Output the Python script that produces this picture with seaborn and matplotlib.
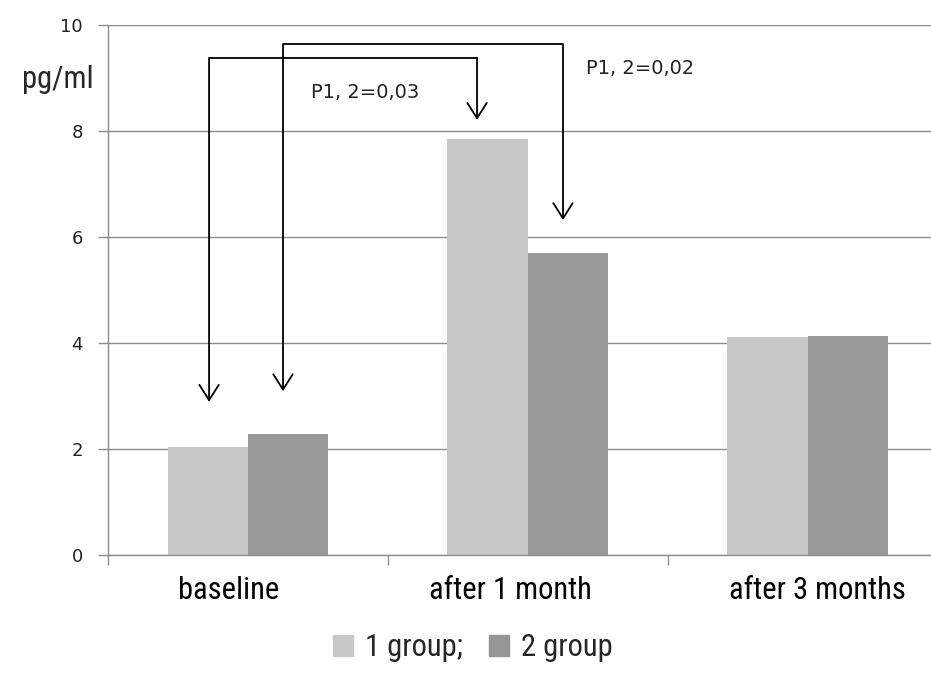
import matplotlib
matplotlib.use("Agg")
import matplotlib.pyplot as plt
import matplotlib.patches as mpatches
import matplotlib.transforms as mtransforms
from matplotlib import font_manager
import seaborn as sns
import pandas as pd

categories = ["baseline", "after 1 month", "after 3 months"]
groups = ["1 group;", "2 group"]
group1_values = [2.03, 7.84, 4.11]
group2_values = [2.29, 5.70, 4.13]
y_ticks = [0, 2, 4, 6, 8, 10]
colors = ["#c8c8c8", "#999999"]
legend_colors = ["#c8c8c8", "#969696"]

df = pd.DataFrame({
    "category": categories * 2,
    "group": [groups[0]] * 3 + [groups[1]] * 3,
    "value": group1_values + group2_values,
})

sns.set_theme(style="white")
plt.rcParams["font.family"] = ["DejaVu Sans"]

available = {f.name for f in font_manager.fontManager.ttflist}
narrow_choice = None
for cand in ["Liberation Sans Narrow", "DejaVu Sans Condensed", "Roboto Condensed",
             "Open Sans Condensed", "Noto Sans Condensed", "Arial Narrow"]:
    if cand in available:
        narrow_choice = cand
        break
if narrow_choice is None:
    narrow = ["Roboto", "DejaVu Sans"]
    big = 20
else:
    narrow = [narrow_choice, "DejaVu Sans"]
    big = 22

fig = plt.figure(figsize=(9.31, 6.95), dpi=100)
ax = fig.add_axes([108 / 931, 1 - 555 / 695, 840 / 931, 530 / 695])

sns.barplot(data=df, x="category", y="value", hue="group", order=categories,
            hue_order=groups, palette=colors, width=0.575, saturation=1,
            linewidth=0, ax=ax, legend=False, errorbar=None)

ax.set_xlim(-0.5, 2.5)
ax.set_ylim(0, 10)
ax.set_yticks(y_ticks)
ax.set_yticklabels([str(t) for t in y_ticks], fontsize=13, color="#222222")
ax.yaxis.grid(True, color="#8c8c8c", linewidth=1.0)
ax.set_axisbelow(True)
ax.set_xlabel("")
ax.set_ylabel("")

ax.set_xticks([0, 1, 2])
ax.set_xticklabels(categories, fontsize=big, family=narrow, color="black")
ax.set_xticks([-0.5, 0.5, 1.5, 2.5], minor=True)
ax.tick_params(axis="x", which="major", length=0, pad=15)
ax.tick_params(axis="x", which="minor", length=7, width=1, color="#8c8c8c", direction="out", bottom=True)
ax.tick_params(axis="y", which="major", length=7, width=1, color="#8c8c8c", direction="out", left=True, pad=11)

# small horizontal offsets of category labels as in the original
label_shift_px = [-19, -18, 9]
for lab, dx in zip(ax.get_xticklabels(), label_shift_px):
    lab.set_transform(lab.get_transform() + mtransforms.Affine2D().translate(dx, 0))

for s in ["top", "right"]:
    ax.spines[s].set_visible(False)
for s in ["left", "bottom"]:
    ax.spines[s].set_color("#8c8c8c")
    ax.spines[s].set_linewidth(1.0)

# unit label
fig.text(58 / 931, 1 - 80 / 695, "pg/ml", fontsize=big, family=narrow, ha="center", va="center")

# significance brackets
lw = 1.3
arrow_style = "->,head_length=1.1,head_width=0.7"

b1_left, b1_right, b1_top = -0.139, 0.818, 9.38
ax.plot([b1_left, b1_right], [b1_top, b1_top], color="black", lw=lw, solid_capstyle="butt")
ax.annotate("", xy=(b1_left, 2.89), xytext=(b1_left, b1_top),
            arrowprops=dict(arrowstyle=arrow_style, mutation_scale=10, lw=lw, color="black", shrinkA=0, shrinkB=0))
ax.annotate("", xy=(b1_right, 8.21), xytext=(b1_right, b1_top),
            arrowprops=dict(arrowstyle=arrow_style, mutation_scale=10, lw=lw, color="black", shrinkA=0, shrinkB=0))

b2_left, b2_right, b2_top = 0.125, 1.125, 9.64
ax.plot([b2_left, b2_right], [b2_top, b2_top], color="black", lw=lw, solid_capstyle="butt")
ax.annotate("", xy=(b2_left, 3.09), xytext=(b2_left, b2_top),
            arrowprops=dict(arrowstyle=arrow_style, mutation_scale=10, lw=lw, color="black", shrinkA=0, shrinkB=0))
ax.annotate("", xy=(b2_right, 6.32), xytext=(b2_right, b2_top),
            arrowprops=dict(arrowstyle=arrow_style, mutation_scale=10, lw=lw, color="black", shrinkA=0, shrinkB=0))

pfam = ["DejaVu Sans Condensed", "DejaVu Sans"] if "DejaVu Sans Condensed" in available else ["DejaVu Sans"]
psize = 15 if "DejaVu Sans Condensed" in available else 14
fig.text(311 / 931, 1 - 92 / 695, "P1, 2=0,03", fontsize=psize, family=pfam,
         ha="left", va="center", color="#222222")
fig.text(586 / 931, 1 - 69 / 695, "P1, 2=0,02", fontsize=psize, family=pfam,
         ha="left", va="center", color="#222222")

handles = [mpatches.Patch(color=c, label=g) for c, g in zip(legend_colors, groups)]
fig.legend(handles=handles, loc="center", bbox_to_anchor=(473 / 931, 1 - 648 / 695), ncol=2,
           frameon=False, prop={"family": narrow, "size": big}, handlelength=0.66, handleheight=0.66,
           handletextpad=0.4, columnspacing=0.85)

fig.savefig("out.png", dpi=100)
